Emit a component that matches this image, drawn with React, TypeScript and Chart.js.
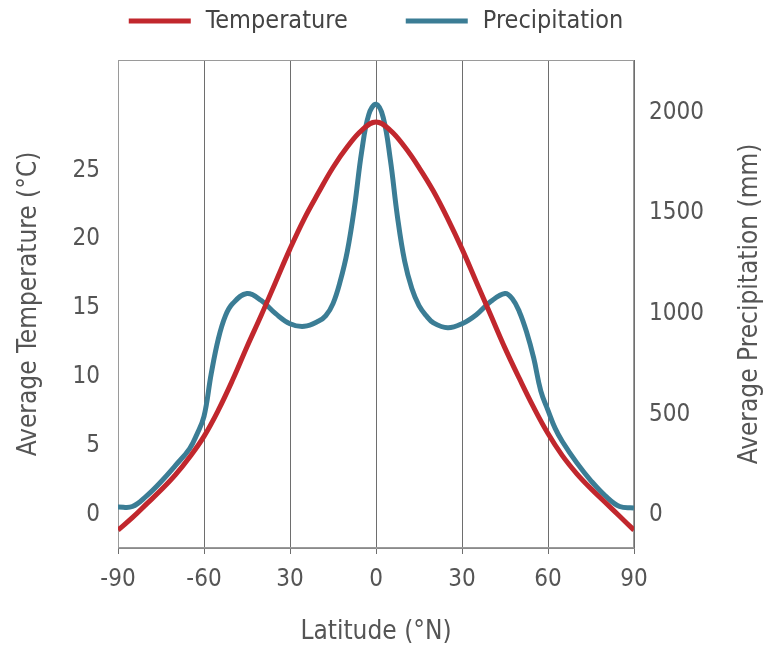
import React, { useEffect, useRef } from "react";
import { Chart, registerables } from "chart.js";

Chart.register(...registerables);

const FONT = "'DejaVu Sans Condensed', 'Noto Sans', sans-serif";

const tempLatitudes = [-90, -85, -80, -75, -70, -65, -60, -55, -50, -45, -40, -35, -30, -25, -20, -15, -10, -5, 0, 5, 10, 15, 20, 25, 30, 35, 40, 45, 50, 55, 60, 65, 70, 75, 80, 85, 90];
const temperature = [-1.1, -0.2, 0.8, 1.8, 2.9, 4.2, 5.7, 7.6, 9.8, 12.2, 14.5, 16.9, 19.3, 21.5, 23.4, 25.2, 26.7, 27.9, 28.5, 27.9, 26.7, 25.2, 23.5, 21.5, 19.3, 16.9, 14.5, 12.1, 9.9, 7.8, 5.9, 4.3, 3.0, 1.9, 0.9, -0.1, -1.1];

const precipLatitudes = [-90, -85, -80, -75, -70, -65, -62.5, -60, -57.5, -55, -52.5, -50, -45, -40, -35, -30, -25, -20, -17.5, -15, -12.5, -10, -7.5, -5, -2.5, 0, 2.5, 5, 7.5, 10, 12.5, 15, 17.5, 20, 25, 30, 35, 40, 45, 47.5, 50, 52.5, 55, 57.5, 60, 62.5, 65, 70, 75, 80, 85, 90];
const precipitation = [40, 42, 95, 165, 245, 330, 400, 490, 700, 875, 990, 1050, 1100, 1065, 1000, 950, 937, 963, 990, 1050, 1160, 1310, 1530, 1805, 1990, 2040, 1975, 1765, 1480, 1260, 1125, 1040, 990, 955, 930, 950, 995, 1060, 1100, 1075, 1010, 910, 780, 615, 520, 430, 365, 260, 170, 95, 42, 35];

const xTickValues = [-90, -60, -30, 0, 30, 60, 90];
const xTickLabels = ["-90", "-60", "30", "0", "30", "60", "90"];
const tempTicks = [0, 5, 10, 15, 20, 25];
const precipTicks = [0, 500, 1000, 1500, 2000];

const seriesNames = ["Temperature", "Precipitation"];
const seriesColors = ["#c1272d", "#3b7d95"];
const rightTitle = "Average Precipitation (mm)";

const legendPlugin = {
  id: "customLegend",
  afterDraw(chart: any) {
    const ctx = chart.ctx;
    const ca = chart.chartArea;
    ctx.save();
    ctx.font = `25px ${FONT}`;
    const items = chart.data.datasets.map((d: any) => ({
      label: d.label,
      color: d.borderColor,
      w: ctx.measureText(d.label).width,
    }));
    const lineW = 62;
    const gap = 15;
    const itemGap = 58;
    const total =
      items.reduce((s: number, it: any) => s + lineW + gap + it.w, 0) + itemGap * (items.length - 1);
    let x = (ca.left + ca.right) / 2 - total / 2;
    const y = 21;
    items.forEach((it: any) => {
      ctx.strokeStyle = it.color;
      ctx.lineWidth = 5;
      ctx.beginPath();
      ctx.moveTo(x, y);
      ctx.lineTo(x + lineW, y);
      ctx.stroke();
      x += lineW + gap;
      ctx.fillStyle = "#444";
      ctx.textBaseline = "middle";
      ctx.textAlign = "left";
      ctx.fillText(it.label, x, y);
      x += it.w + itemGap;
    });

    // right axis title, reading bottom to top
    ctx.font = `26px ${FONT}`;
    ctx.fillStyle = "#555";
    ctx.translate(750, (ca.top + ca.bottom) / 2);
    ctx.rotate(-Math.PI / 2);
    ctx.textAlign = "center";
    ctx.textBaseline = "middle";
    ctx.fillText(rightTitle, 0, 0);
    ctx.restore();
  },
};

const framePlugin = {
  id: "frame",
  beforeDatasetsDraw(chart: any) {
    const { ctx, chartArea: ca } = chart;
    ctx.save();
    ctx.strokeStyle = "#9a9a9a";
    ctx.lineWidth = 1;
    ctx.strokeRect(ca.left + 0.5, ca.top + 0.5, ca.right - ca.left - 1, ca.bottom - ca.top - 1);
    ctx.restore();
  },
};

export default function App() {
  const canvasRef = useRef<HTMLCanvasElement | null>(null);

  useEffect(() => {
    if (!canvasRef.current) return;
    const chart = new Chart(canvasRef.current, {
      type: "line",
      data: {
        datasets: [
          {
            label: seriesNames[0],
            data: tempLatitudes.map((x, i) => ({ x, y: temperature[i] })),
            borderColor: seriesColors[0],
            backgroundColor: seriesColors[0],
            borderWidth: 5,
            pointRadius: 0,
            tension: 0.4,
            yAxisID: "yT",
          },
          {
            label: seriesNames[1],
            data: precipLatitudes.map((x, i) => ({ x, y: precipitation[i] })),
            borderColor: seriesColors[1],
            backgroundColor: seriesColors[1],
            borderWidth: 5,
            pointRadius: 0,
            tension: 0.4,
            yAxisID: "yP",
          },
        ],
      },
      options: {
        animation: false,
        responsive: true,
        maintainAspectRatio: false,
        layout: { padding: { top: 60, left: 0, right: 0, bottom: 0 } },
        plugins: {
          legend: { display: false },
          tooltip: { enabled: false },
        },
        scales: {
          x: {
            type: "linear",
            min: -90,
            max: 90,
            afterBuildTicks: (scale: any) => {
              scale.ticks = xTickValues.map((v) => ({ value: v }));
            },
            afterFit: (scale: any) => {
              scale.height = 100;
            },
            ticks: {
              callback: (_v: any, i: number) => xTickLabels[i],
              font: { family: FONT, size: 24 },
              color: "#555",
              padding: 11,
              maxRotation: 0,
            },
            grid: { color: "#6e6e6e", lineWidth: 1, drawTicks: true, tickLength: 6 },
            border: { display: true, color: "#8a8a8a" },
            title: {
              display: true,
              text: "Latitude (°N)",
              font: { family: FONT, size: 26 },
              color: "#555",
              padding: { top: 0, bottom: 0 },
            },
          },
          yT: {
            type: "linear",
            position: "left",
            min: -2.4,
            max: 33,
            afterBuildTicks: (scale: any) => {
              scale.ticks = tempTicks.map((v) => ({ value: v }));
            },
            afterFit: (scale: any) => {
              scale.width = 118;
            },
            ticks: {
              callback: (v: any) => String(v),
              font: { family: FONT, size: 24 },
              color: "#555",
              padding: 18,
            },
            grid: { display: false, drawTicks: false },
            border: { display: false },
            title: {
              display: true,
              text: "Average Temperature (°C)",
              font: { family: FONT, size: 26 },
              color: "#555",
              padding: { top: 14, bottom: 0 },
            },
          },
          yP: {
            type: "linear",
            position: "right",
            min: -164,
            max: 2260,
            afterBuildTicks: (scale: any) => {
              scale.ticks = precipTicks.map((v) => ({ value: v }));
            },
            afterFit: (scale: any) => {
              scale.width = 133;
            },
            ticks: {
              callback: (v: any) => String(v),
              font: { family: FONT, size: 24 },
              color: "#555",
              padding: 15,
            },
            grid: { display: false, drawTicks: false },
            border: { display: false },
            title: { display: false },
          },
        },
      },
      plugins: [framePlugin, legendPlugin],
    } as any);
    return () => chart.destroy();
  }, []);

  return (
    <div style={{ position: "absolute", left: 0, top: 0, width: 767, height: 648, background: "#fff" }}>
      <canvas ref={canvasRef} />
    </div>
  );
}
